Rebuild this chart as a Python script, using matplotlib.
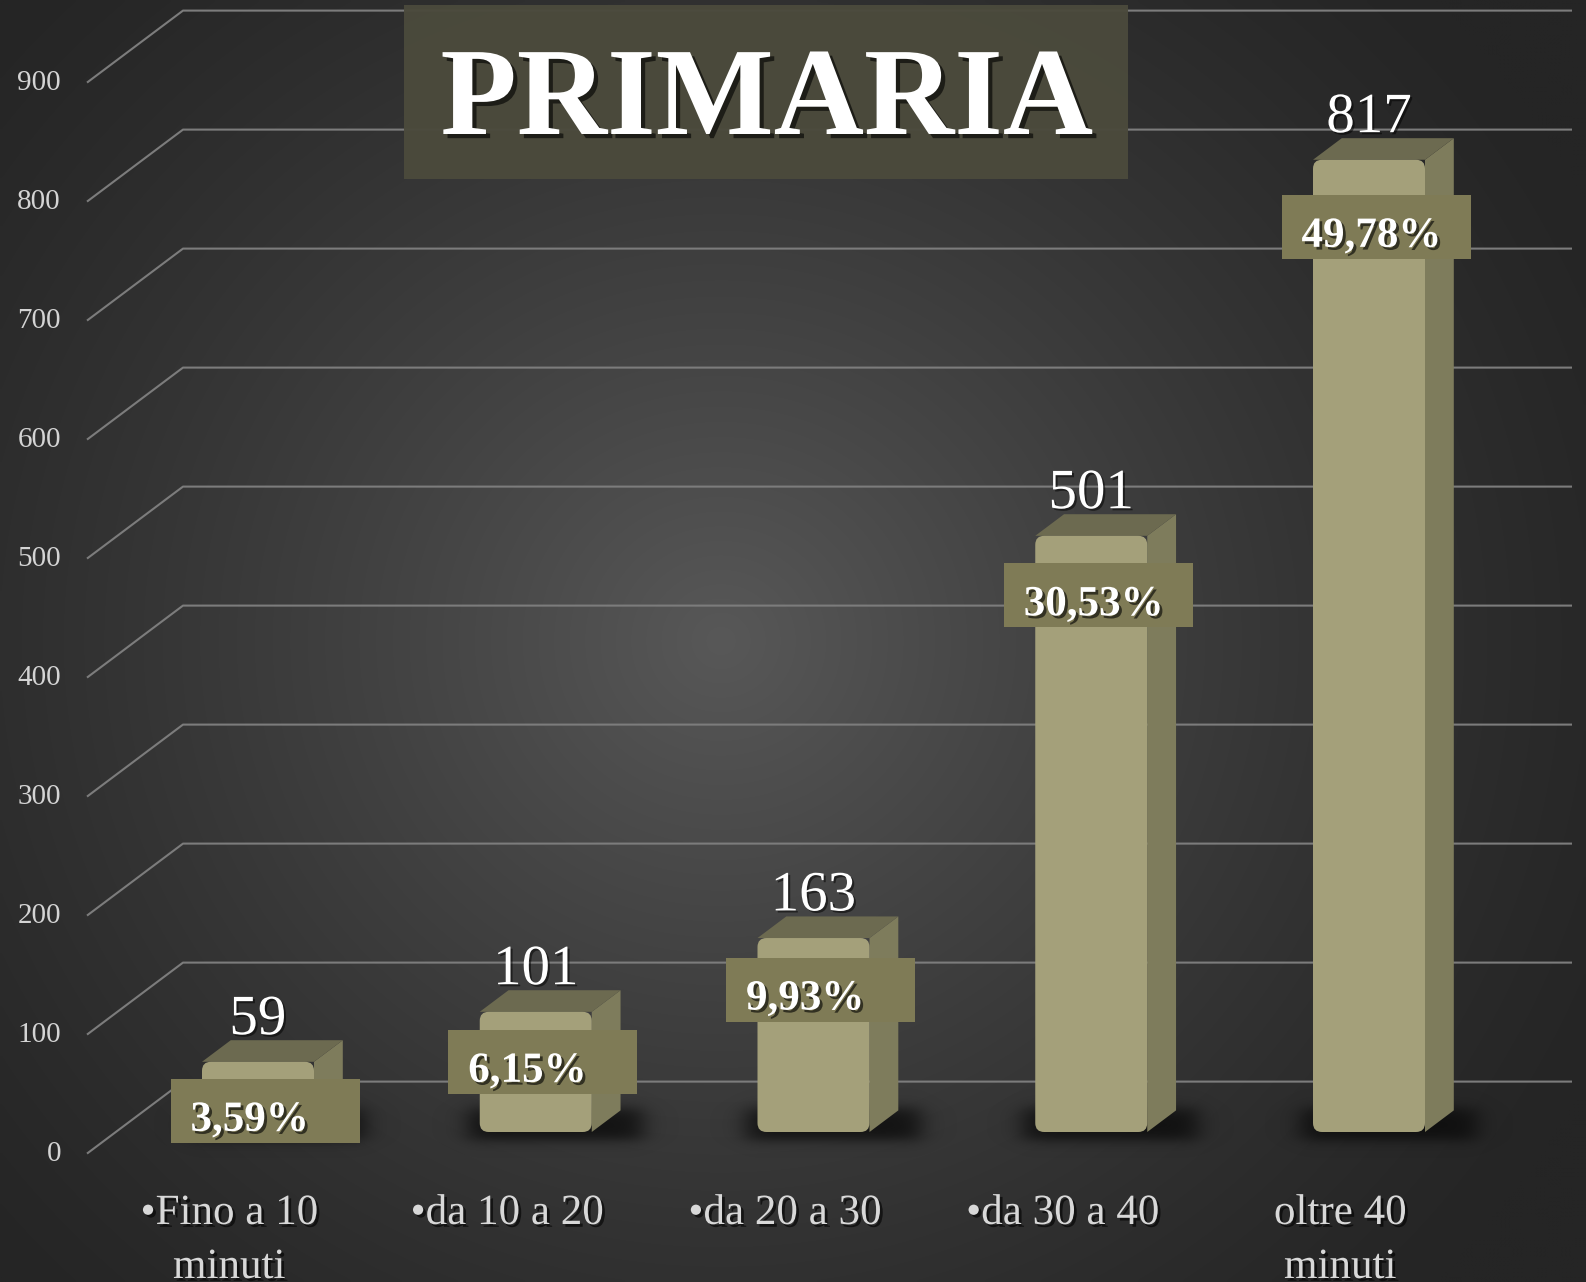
import numpy as np
import matplotlib.pyplot as plt
from matplotlib.patches import Rectangle, Polygon, FancyBboxPatch
import matplotlib.patheffects as pe

# travel time to school, primary
categories = ["•Fino a 10\nminuti", "•da 10 a 20", "•da 20 a 30", "•da 30 a 40", "oltre 40\nminuti"]
counts = [59, 101, 163, 501, 817]
percents = [3.59, 6.15, 9.93, 30.53, 49.78]
y_ticks = [0, 100, 200, 300, 400, 500, 600, 700, 800, 900]
title = "PRIMARIA"

W, H, DPI = 1586, 1282, 100

# pixel geometry of the fake 3D plot
X0_PX, STEP_PX = 258.0, 277.75   # first bar centre, bar spacing
Y0_PX, UNIT_PX = 1132.0, 1.19    # zero of the bar plane, px per count
DEPTH_X = 96 / STEP_PX           # full wall depth in data units
DEPTH_Y = 72 / UNIT_PX
BAR_D0, BAR_D1 = 0.3, 0.6        # bars sit between these depth fractions
BAR_W = 112 / STEP_PX

FRONT = "#a4a07a"
SIDE = "#7e7c5c"
TOP = "#6c6a50"
LABEL_BOX = "#7f7b56"
GRID = "#7c7c7c"
SERIF = "Liberation Serif"


def px_x(p):
    return p / STEP_PX


def px_y(p):
    return p / UNIT_PX


def shadow(offset=(2, -2), alpha=0.6):
    return [pe.withSimplePatchShadow(offset=offset, shadow_rgbFace="black", alpha=alpha)]


fig = plt.figure(figsize=(W / DPI, H / DPI), dpi=DPI)
ax = fig.add_axes([0, 0, 1, 1])
xlim = (-X0_PX / STEP_PX, (W - X0_PX) / STEP_PX)
ylim = ((Y0_PX - H) / UNIT_PX, Y0_PX / UNIT_PX)
ax.set_xlim(*xlim)
ax.set_ylim(*ylim)
ax.axis("off")

# radial background
yy, xx = np.mgrid[0:H:4, 0:W:4]
r = np.hypot(xx - 720, (yy - 640) * 1.05)
f = np.clip(1 - r / 980, 0, 1) ** 1.3
shade = (37 + (88 - 37) * f) / 255
bg = np.dstack([shade, shade, shade])
ax.imshow(bg, extent=(*xlim, *ylim), origin="upper", aspect="auto",
          interpolation="bilinear", zorder=0)

# gridlines: diagonal on the left wall, horizontal on the back wall
wall_left = (87 - X0_PX) / STEP_PX
wall_right = (1572 - X0_PX) / STEP_PX
for v in y_ticks:
    v_front = v - BAR_D0 * DEPTH_Y
    v_back = v + (1 - BAR_D0) * DEPTH_Y
    ax.plot([wall_left, wall_left + DEPTH_X, wall_right], [v_front, v_back, v_back],
            color=GRID, lw=1.5, solid_capstyle="butt", zorder=1)
    ax.text(wall_left - px_x(26), v_front, f"{v}", ha="right", va="center",
            fontsize=21, color="#d4d4d4", family=SERIF, zorder=5)

dxb = (BAR_D1 - BAR_D0) * DEPTH_X
dyb = (BAR_D1 - BAR_D0) * DEPTH_Y


def soft(t, w):
    return 0.5 * (1 + np.tanh(t / w))


for i, v in enumerate(counts):
    left, right = i - BAR_W / 2, i + BAR_W / 2

    # soft floor shadow, built in pixel offsets around the bar foot
    sx = np.linspace(-70, 112 + 29 + 80, 160)
    sy = np.linspace(-60, 50, 90)
    SX, SY = np.meshgrid(sx, sy)
    a = (soft(SX + 12, 14) * soft(112 + 29 + 22 - SX, 14)
         * soft(SY + 8, 7) * soft(24 - SY, 8)) * 0.8
    rgba = np.zeros(a.shape + (4,))
    rgba[..., :3] = 0.04
    rgba[..., 3] = a
    ax.imshow(rgba, extent=(left + px_x(sx[0]), left + px_x(sx[-1]), px_y(sy[0]), px_y(sy[-1])),
              origin="lower", aspect="auto", interpolation="bilinear", zorder=2)

    ax.add_patch(Polygon([(right, 0), (right + dxb, dyb), (right + dxb, v + dyb), (right, v)],
                         closed=True, facecolor=SIDE, edgecolor="none", zorder=3))
    ax.add_patch(Polygon([(left, v), (right, v), (right + dxb, v + dyb), (left + dxb, v + dyb)],
                         closed=True, facecolor=TOP, edgecolor="none", zorder=3))
    ax.add_patch(FancyBboxPatch((left, 0), BAR_W, v,
                                boxstyle=f"round,pad=0,rounding_size={px_x(9)}",
                                mutation_aspect=STEP_PX / UNIT_PX,
                                facecolor=FRONT, edgecolor="none", zorder=4))

    # count above the bar
    ax.text(i, v + dyb + px_y(6), f"{v}", ha="center", va="baseline",
            fontsize=41, color="white", family=SERIF, zorder=6,
            path_effects=shadow((1.5, -1.5), 0.5))

    # percentage tag, sitting a bit lower on the taller bars
    box_w, box_h = px_x(189), px_y(64)
    cx = i + px_x(7)
    cy = v - (40 + 0.02 * v)
    ax.add_patch(Rectangle((cx - box_w / 2, cy - box_h / 2), box_w, box_h,
                           facecolor=LABEL_BOX, edgecolor="none", zorder=6))
    ax.text(cx - box_w / 2 + px_x(20), cy - px_y(20), f"{percents[i]:.2f}%".replace(".", ","),
            ha="left", va="baseline", fontsize=31, fontweight="bold", color="white",
            family=SERIF, zorder=7, path_effects=shadow((2, -2), 0.6))

    # category name under the front edge
    x_front = i - BAR_D0 * DEPTH_X
    for k, line in enumerate(categories[i].split("\n")):
        ax.text(x_front, (Y0_PX - 1224 - 54 * k) / UNIT_PX, line, ha="center", va="baseline",
                fontsize=31, color="#d8d8d8", family=SERIF, zorder=6,
                path_effects=shadow((2, -2), 0.6))

# title plate
fig.add_artist(Rectangle((404 / W, 1 - 179 / H), (1128 - 404) / W, (179 - 5) / H,
                         transform=fig.transFigure, facecolor="#4b4a3c", edgecolor="none",
                         alpha=0.97, zorder=8))
fig.text(767 / W, 1 - 134 / H, title, ha="center", va="baseline", fontsize=90,
         fontweight="bold", color="white", family=SERIF, zorder=9,
         path_effects=shadow((3, -3), 0.6))

fig.savefig("out.png", dpi=DPI)
